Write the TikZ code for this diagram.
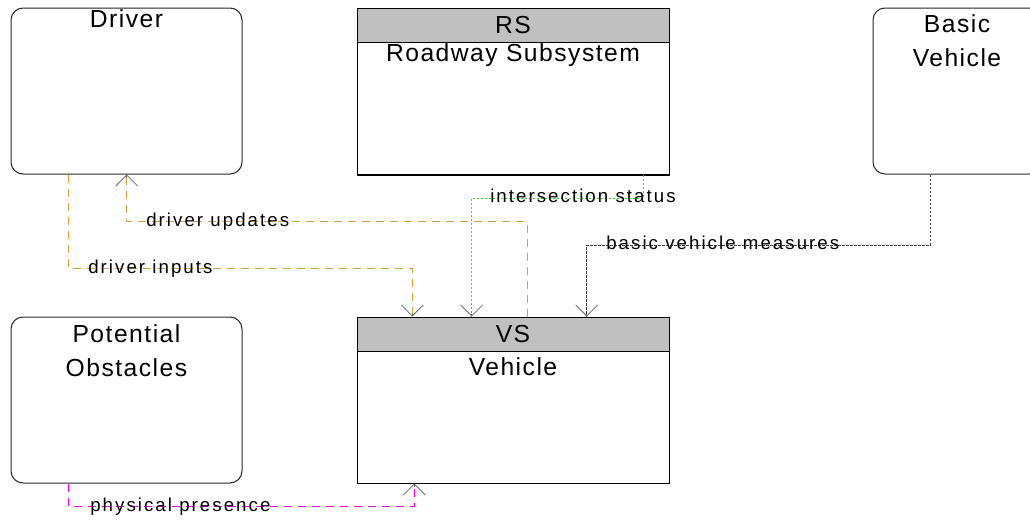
\documentclass[tikz,border=0pt]{standalone}
\usepackage{fontspec}
\setmainfont{Liberation Sans}
\newfontfamily\titlefont[LetterSpace=6]{Liberation Sans}
\newfontfamily\flowfont[LetterSpace=11]{Liberation Sans}
\usetikzlibrary{arrows.meta,positioning,calc}
\definecolor{flowgold}{RGB}{214,160,64}
\definecolor{flowgreen}{RGB}{40,220,40}
\definecolor{flowgray}{RGB}{60,60,60}
\definecolor{flowmag}{RGB}{240,0,240}
\definecolor{headgray}{RGB}{192,192,192}
\definecolor{tipgray}{RGB}{105,105,105}

\begin{document}
\begin{tikzpicture}[x=0.75pt,y=-0.75pt,
        terminator/.style={draw=black!85,line width=0.75pt,rounded corners=9pt,
                           minimum width=173.25pt,minimum height=124.5pt,inner sep=0pt},
        subsystem/.style={draw=black,line width=0.75pt,minimum width=234pt,
                          minimum height=124.5pt,inner sep=0pt},
        subhead/.style={draw=black,line width=0.75pt,fill=headgray,minimum width=234pt,
                        minimum height=25.5pt,inner sep=0pt,anchor=north,
                        font=\titlefont\fontsize{18.5}{25.5}\selectfont},
        boxtitle/.style={inner sep=0pt,align=center,
                         font=\titlefont\fontsize{18.5}{25.5}\selectfont},
        flowlbl/.style={inner sep=0pt,anchor=base west,
                        font=\flowfont\fontsize{14}{16}\selectfont},
        tipline/.style={color=tipgray,line width=0.6pt,
                        -{Straight Barb[length=8.25pt,width=16.5pt]}},
        goldflow/.style={color=flowgold,line width=1pt,dash pattern=on 6pt off 4.5pt},
        greenflow/.style={color=flowgreen,line width=1pt,dash pattern=on 2pt off 1pt},
        grayflow/.style={color=flowgray,line width=0.75pt,dash pattern=on 2pt off 1pt},
        magflow/.style={color=flowmag,line width=1pt,dash pattern=on 6pt off 4.5pt}]
    \useasboundingbox (0,0) rectangle (1030,521);

    % terminators
    \node[terminator] (driver) at (126.5,91) {};
    \node[boxtitle,anchor=base] (drivername) at ($(driver.north)+(0,20)$) {Driver};
    \node[terminator,minimum width=126pt] (basic) at (957,91) {};
    \node[boxtitle,anchor=north] (basicname) at ($(basic.north)+(0,7)$) {Basic\\Vehicle};
    \node[terminator] (obst) at (126.5,400) {};
    \node[boxtitle,anchor=north] (obstname) at ($(obst.north)+(0,8)$) {Potential\\Obstacles};

    % subsystems
    \node[subsystem] (rs) at (513,91) {};
    \node[subhead] (rshead) at (rs.north) {RS};
    \node[boxtitle,anchor=base] (rsname) at ($(rs.north)+(0,54)$) {Roadway Subsystem};
    \draw[line width=1.5pt] (rs.south west) -- (rs.south east);
    \node[subsystem] (vs) at (513,400) {};
    \node[subhead] (vshead) at (vs.north) {VS};
    \node[boxtitle,anchor=base] (vsname) at ($(vs.north)+(0,59)$) {Vehicle};

    % flows
    \coordinate (inpcorner) at (412.3,268.3);
    \coordinate (updcorner) at (126.7,221.7);
    \coordinate (intcorner) at (471.7,198.3);
    \coordinate (bvmcorner) at (586.7,245);
    \coordinate (phycorner) at (414.3,506.7);

    \draw[goldflow] ($(driver.south west)+(58.3,0)$) |- (inpcorner) -- (inpcorner |- vs.north);
    \draw[goldflow] ($(vs.north west)+(171,0)$) |- (updcorner) -- (updcorner |- driver.south);
    \draw[greenflow] ($(rs.south west)+(287,0)$) |- (intcorner) -- (intcorner |- vs.north);
    \draw[grayflow] ($(basic.south west)+(57.7,0)$) |- (bvmcorner) -- (bvmcorner |- vs.north);
    \draw[magflow] ($(obst.south west)+(58.3,0)$) |- (phycorner) -- (phycorner |- vs.south);

    % open arrow heads
    \draw[tipline] ($(inpcorner |- vs.north)+(0,-3)$) -- (inpcorner |- vs.north);
    \draw[tipline] ($(updcorner |- driver.south)+(0,3)$) -- (updcorner |- driver.south);
    \draw[tipline] ($(intcorner |- vs.north)+(0,-3)$) -- (intcorner |- vs.north);
    \draw[tipline] ($(bvmcorner |- vs.north)+(0,-3)$) -- (bvmcorner |- vs.north);
    \draw[tipline] ($(phycorner |- vs.south)+(0,3)$) -- (phycorner |- vs.south);

    \node[flowlbl] (lblinp) at (88,273) {driver inputs};
    \node[flowlbl] (lblupd) at (146,226) {driver updates};
    \node[flowlbl] (lblint) at (490,202) {intersection status};
    \node[flowlbl] (lblbvm) at (606,249) {basic vehicle measures};
    \node[flowlbl] (lblphy) at (90,511) {physical presence};
\end{tikzpicture}
\end{document}
